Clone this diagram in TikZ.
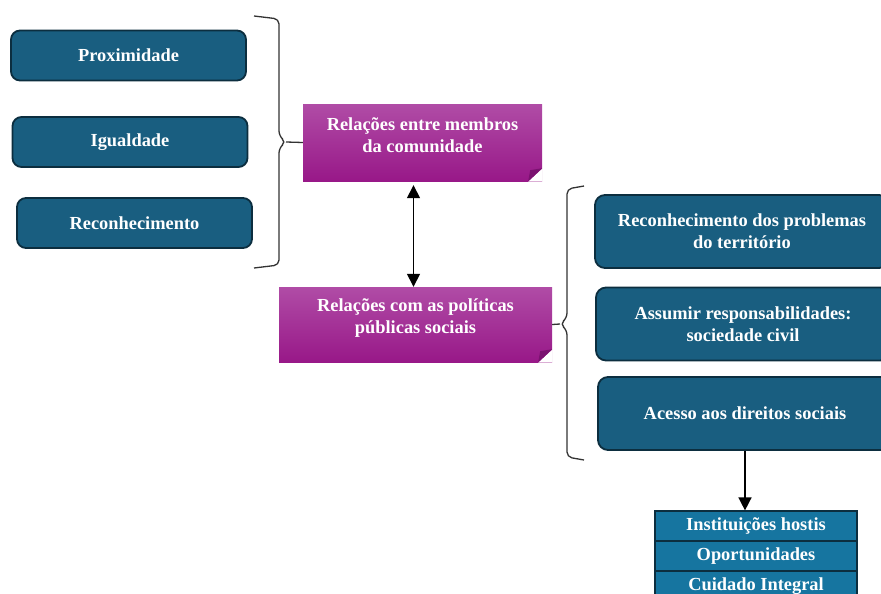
\documentclass[tikz,border=0pt]{standalone}
\usepackage{fontspec}
\setmainfont{Liberation Serif}
\usepackage{xcolor}
\usepackage{tikz}
\usetikzlibrary{arrows.meta, calc}

\definecolor{azulesc}{HTML}{195E80}
\definecolor{azulborda}{HTML}{0C2E3F}
\definecolor{azultab}{HTML}{1675A0}
\definecolor{magclaro}{HTML}{B04CA6}
\definecolor{magescuro}{HTML}{981888}
\definecolor{magdobra}{HTML}{7A1270}

\begin{document}
\begin{tikzpicture}[x=1pt, y=-1pt, every node/.style={font=\bfseries\fontsize{18.4}{22}\selectfont, text=white, align=center}]
			\useasboundingbox (0, 0) rectangle (881, 594);
			
			\begin{scope}[
				itembox/.style={draw=azulborda, fill=azulesc, rounded corners=9pt, line width=1.8pt, minimum width=235pt, minimum height=50pt, inner sep=2pt},
				eixobox/.style={draw=azulborda, fill=azulesc, rounded corners=10pt, line width=1.8pt, minimum width=294pt, minimum height=73pt, inner sep=2pt},
				magbox/.style={top color=magclaro, bottom color=magescuro, inner sep=0pt},
				rowbox/.style={draw=azulborda, fill=azultab, line width=1.2pt, minimum width=202pt, minimum height=30pt, inner sep=0pt}]
				\node[itembox] (prox) at (128.5, 55.5) {Proximidade};
				\node[itembox] (igual) at (130, 142) {Igualdade};
				\node[itembox] (recon) at (134.5, 223) {Reconhecimento};
				
				\node[magbox, minimum width=239pt, minimum height=77pt] (rel1) at (422.5, 142.5) {};
				\node (rel1txt) at (422.5, 135) {Relações entre membros\\da comunidade};
				
				\node[magbox, minimum width=273pt, minimum height=75pt] (rel2) at (415.5, 324.5) {};
				\node (rel2txt) at (415.5, 318) {Relações com as políticas\\públicas sociais};
				
				\node[eixobox] (probl) at (742, 231.5) {Reconhecimento dos problemas\\do território};
				\node[eixobox] (assum) at (743, 324) {Assumir responsabilidades:\\sociedade civil};
				\node[eixobox] (acess) at (745, 413.5) {Acesso aos direitos sociais};
				
				\node[rowbox] (inst) at (756, 526) {Instituições hostis};
				\node[rowbox] (opor) at (756, 556) {Oportunidades};
				\node[rowbox] (cuid) at (756, 586) {Cuidado Integral};
			\end{scope}
			
			\fill[white] ($(rel1.south east)+(-14, 0.5)$) -- ($(rel1.south east)+(0.5, 0.5)$) -- ($(rel1.south east)+(0.5, -13)$) -- cycle;
			\fill[magdobra] ($(rel1.south east)+(-14, 0)$) -- ($(rel1.south east)+(0, -13)$) -- ($(rel1.south east)+(-12, -11)$) -- cycle;
			\fill[white] ($(rel2.south east)+(-14, 0.5)$) -- ($(rel2.south east)+(0.5, 0.5)$) -- ($(rel2.south east)+(0.5, -13)$) -- cycle;
			\fill[magdobra] ($(rel2.south east)+(-14, 0)$) -- ($(rel2.south east)+(0, -13)$) -- ($(rel2.south east)+(-12, -11)$) -- cycle;
			
			\coordinate (c1) at (286, 142);
			\coordinate (c2) at (560, 324);
			
			\draw[black!80, line width=1.3pt, rounded corners=5pt] (254, 16) -- (279, 19) -- (279, 136) -- (c1) -- (279, 148) -- (279, 265) -- (254, 268);
			\draw[black!80, line width=1.3pt] (c1) -- (rel1.west);
			\draw[black!80, line width=1.3pt, rounded corners=5pt] (584, 186) -- (567, 189) -- (567, 318) -- (c2) -- (567, 330) -- (567, 457) -- (584, 460);
			\draw[black!80, line width=1.3pt] (c2) -- (rel2.east);
			
			\draw[{Triangle[length=13pt, width=13pt]}-{Triangle[length=13pt, width=13pt]}, line width=1.5pt] ($(rel2.north |- rel1.south)+(-2, 4)$) -- ($(rel2.north)+(-2, 0)$);
			\draw[-{Triangle[length=13pt, width=13pt]}, line width=1.5pt] (acess.south) -- (acess.south |- inst.north);
		\end{tikzpicture}
\end{document}
